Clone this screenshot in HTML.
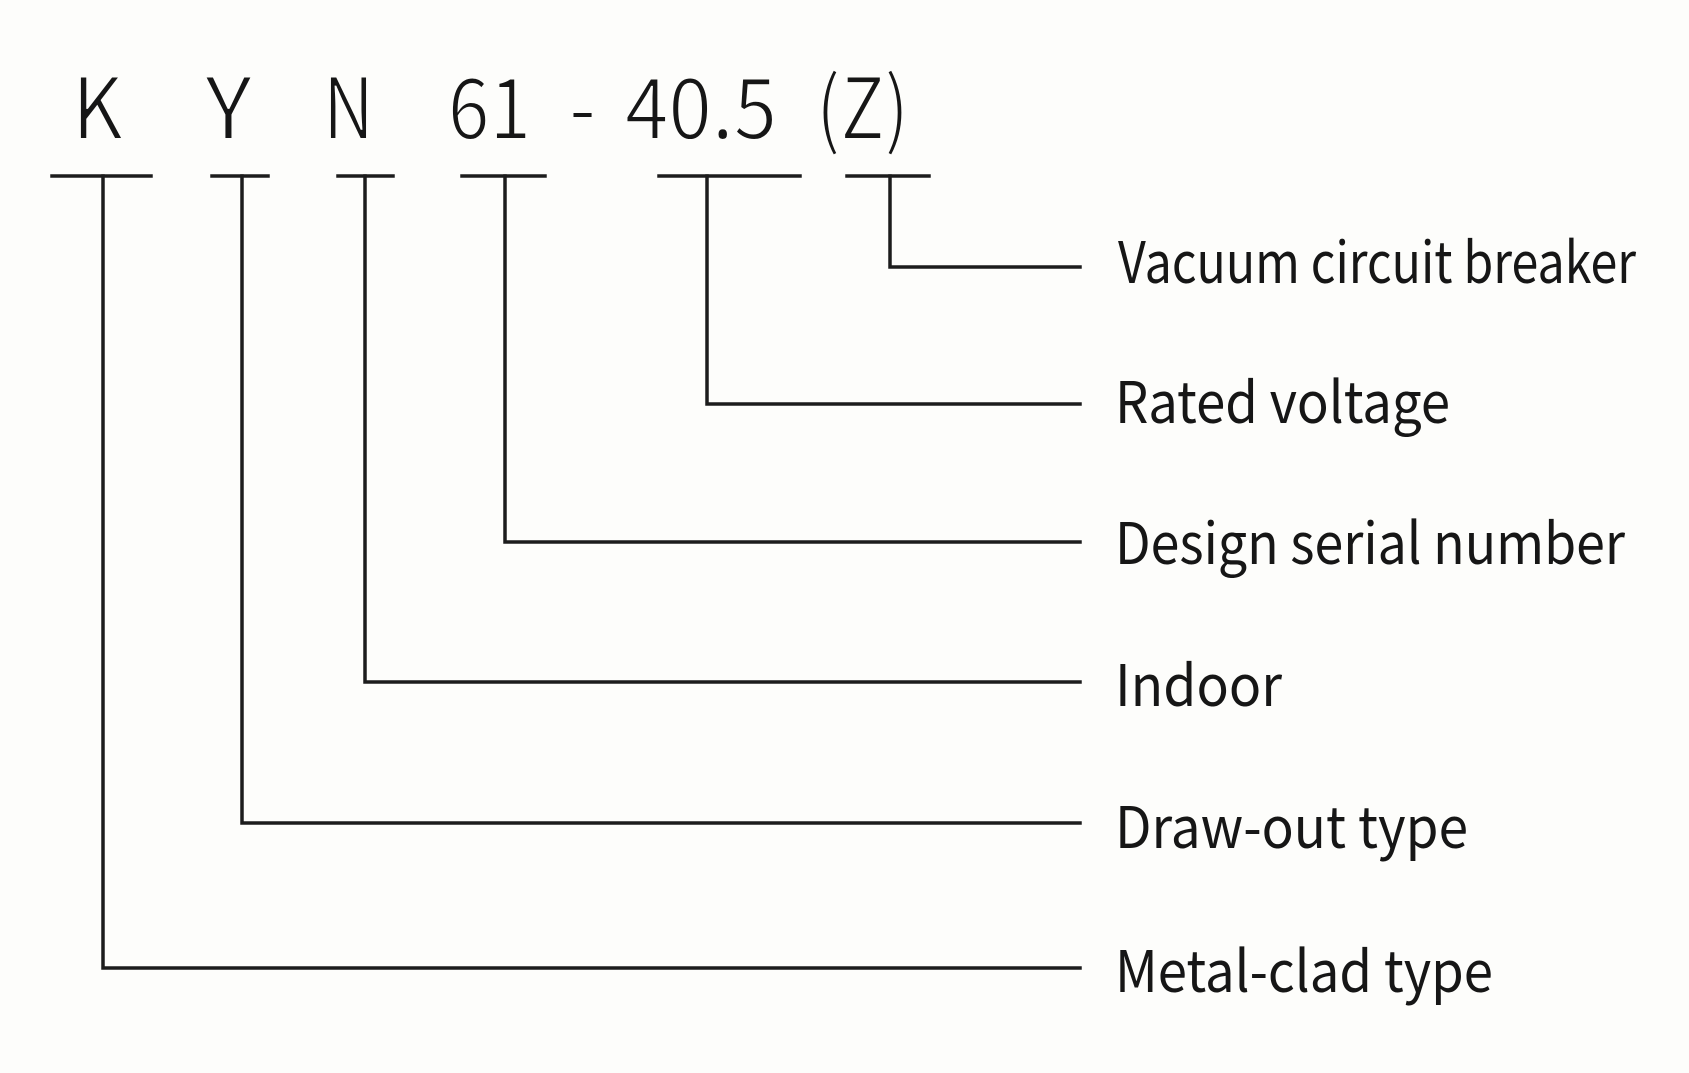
<!DOCTYPE html>
<html>
<head>
<meta charset="utf-8">
<style>
html,body{margin:0;padding:0;background:#fdfdfb;}
svg{display:block;}
</style>
</head>
<body>
<svg width="1689" height="1073" viewBox="0 0 1689 1073" xmlns="http://www.w3.org/2000/svg">
<rect x="0" y="0" width="1689" height="1073" fill="#fdfdfb"/>
<g font-family="'Noto Sans CJK SC','Liberation Sans',sans-serif" fill="#161616" font-size="85" stroke="#fdfdfb" stroke-width="2">
  <text x="72" y="139" textLength="51" lengthAdjust="spacingAndGlyphs">K</text>
  <text x="205" y="139" textLength="47" lengthAdjust="spacingAndGlyphs">Y</text>
  <text x="323" y="139" textLength="51" lengthAdjust="spacingAndGlyphs">N</text>
  <text x="448" y="139" textLength="83" lengthAdjust="spacingAndGlyphs">61</text>
  <text x="569" y="139" textLength="27" lengthAdjust="spacingAndGlyphs">-</text>
  <text x="625" y="139" textLength="152" lengthAdjust="spacingAndGlyphs">40.5</text>
  <text x="816" y="139" textLength="93" lengthAdjust="spacingAndGlyphs">(Z)</text>
</g>
<g fill="none" stroke="#1c1c1c" stroke-width="3.5" stroke-linecap="square" stroke-linejoin="miter">
  <line x1="52" y1="176" x2="151" y2="176"/>
  <line x1="212" y1="176" x2="268" y2="176"/>
  <line x1="338" y1="176" x2="393" y2="176"/>
  <line x1="462" y1="176" x2="545" y2="176"/>
  <line x1="659" y1="176" x2="800" y2="176"/>
  <line x1="847" y1="176" x2="929" y2="176"/>
  <polyline points="890,176 890,267 1080,267"/>
  <polyline points="707,176 707,404 1080,404"/>
  <polyline points="505,176 505,542 1080,542"/>
  <polyline points="365,176 365,682 1080,682"/>
  <polyline points="242,176 242,823 1080,823"/>
  <polyline points="103,176 103,968 1080,968"/>
</g>
<g font-family="'Noto Sans CJK SC','Liberation Sans',sans-serif" fill="#161616" font-size="57">
  <text x="1118" y="283" textLength="518" lengthAdjust="spacingAndGlyphs">Vacuum circuit breaker</text>
  <text x="1115" y="423" textLength="335" lengthAdjust="spacingAndGlyphs">Rated voltage</text>
  <text x="1115" y="564" textLength="510" lengthAdjust="spacingAndGlyphs">Design serial number</text>
  <text x="1115" y="706" textLength="167" lengthAdjust="spacingAndGlyphs">Indoor</text>
  <text x="1115" y="848" textLength="353" lengthAdjust="spacingAndGlyphs">Draw-out type</text>
  <text x="1115" y="992" textLength="378" lengthAdjust="spacingAndGlyphs">Metal-clad type</text>
</g>
</svg>
</body>
</html>
